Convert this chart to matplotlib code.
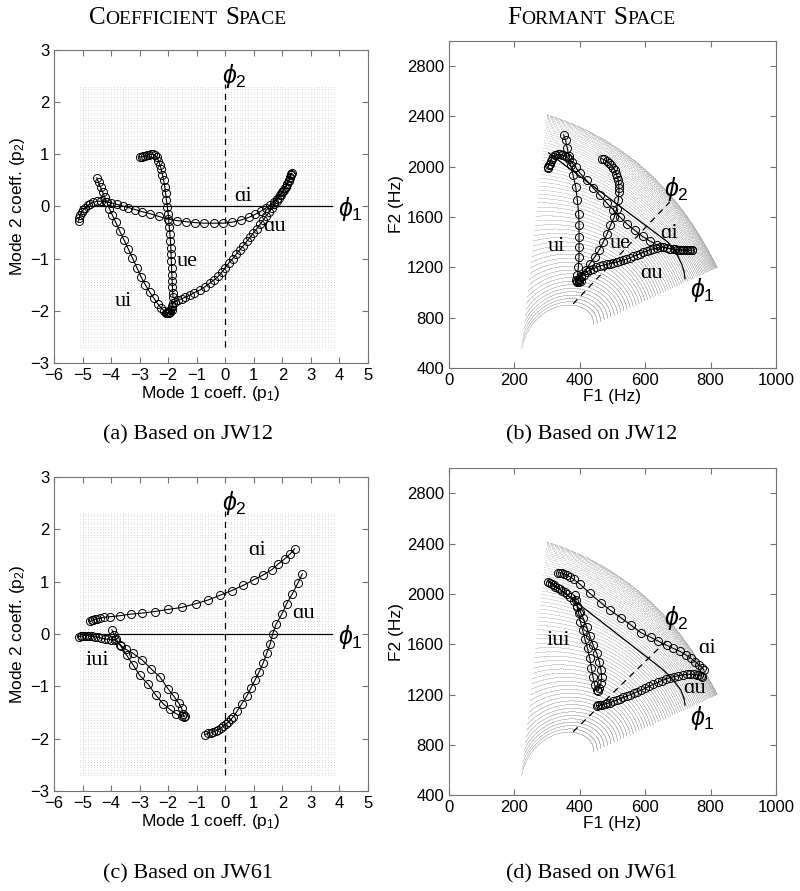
import numpy as np
import matplotlib
matplotlib.use('Agg')
import matplotlib.pyplot as plt

plt.rcParams['font.family'] = ['Liberation Sans', 'DejaVu Sans']
plt.rcParams['mathtext.fontset'] = 'custom'
plt.rcParams['mathtext.rm'] = 'Liberation Sans'
plt.rcParams['mathtext.it'] = 'Liberation Sans:italic'
SERIF = ['Liberation Serif', 'DejaVu Serif']

# ---------------- coefficient space, JW12 ----------------
a_ai_x = [-5.14, -5.12, -5.08, -5.03, -4.97, -4.9, -4.82, -4.73, -4.62, -4.5,
          -4.35, -4.18, -4.0, -3.8, -3.6, -3.4, -3.15, -2.9, -2.62, -2.33,
          -2.02, -1.7, -1.38, -1.06, -0.73, -0.4, -0.07, 0.25, 0.55, 0.82,
          1.05, 1.25, 1.42, 1.57, 1.7, 1.82, 1.92, 2.01, 2.09, 2.16,
          2.22, 2.27, 2.3]
a_ai_y = [-0.28, -0.22, -0.16, -0.11, -0.06, -0.02, 0.02, 0.05, 0.08, 0.1,
          0.1, 0.09, 0.07, 0.04, 0.01, -0.02, -0.06, -0.1, -0.14, -0.19,
          -0.24, -0.27, -0.29, -0.31, -0.32, -0.32, -0.32, -0.3, -0.26, -0.21,
          -0.15, -0.09, -0.03, 0.03, 0.09, 0.15, 0.22, 0.29, 0.36, 0.43,
          0.5, 0.57, 0.63]
a_au_x = [-2.05, -1.98, -1.92, -1.87, -1.83, -1.75, -1.65, -1.53, -1.4, -1.24,
          -1.08, -0.89, -0.72, -0.54, -0.4, -0.25, -0.12, 0.0, 0.13, 0.26,
          0.39, 0.51, 0.63, 0.75, 0.87, 0.98, 1.1, 1.22, 1.33, 1.43,
          1.53, 1.63, 1.72, 1.8, 1.87, 1.94, 2.0, 2.06, 2.12, 2.17,
          2.22, 2.26, 2.3, 2.33]
a_au_y = [-2.04, -2.03, -1.99, -1.93, -1.85, -1.83, -1.8, -1.77, -1.74, -1.7,
          -1.65, -1.6, -1.54, -1.47, -1.41, -1.34, -1.26, -1.17, -1.08, -1.0,
          -0.91, -0.83, -0.75, -0.67, -0.59, -0.51, -0.43, -0.34, -0.26, -0.18,
          -0.11, -0.03, 0.04, 0.11, 0.17, 0.22, 0.27, 0.32, 0.38, 0.43,
          0.49, 0.54, 0.6, 0.64]
a_ue_x = [-2.97, -2.92, -2.87, -2.82, -2.75, -2.68, -2.6, -2.53, -2.46, -2.4,
          -2.34, -2.29, -2.24, -2.2, -2.16, -2.12, -2.09, -2.06, -2.03, -2.0,
          -1.98, -1.96, -1.94, -1.92, -1.91, -1.9, -1.89, -1.88, -1.87, -1.86,
          -1.85, -1.84, -1.83]
a_ue_y = [0.95, 0.95, 0.96, 0.97, 0.98, 0.99, 1.0, 1.0, 0.98, 0.94,
          0.88, 0.8, 0.71, 0.61, 0.5, 0.38, 0.25, 0.12, -0.01, -0.14,
          -0.27, -0.4, -0.53, -0.66, -0.79, -0.92, -1.05, -1.18, -1.31, -1.43,
          -1.55, -1.65, -1.74]
a_ui_x = [-4.5, -4.44, -4.37, -4.3, -4.23, -4.15, -4.06, -3.96, -3.84, -3.7,
          -3.55, -3.4, -3.25, -3.1, -2.95, -2.8, -2.65, -2.5, -2.36, -2.24,
          -2.14, -2.07, -2.02, -1.97, -1.92, -1.88, -1.86]
a_ui_y = [0.55, 0.46, 0.37, 0.28, 0.19, 0.08, -0.04, -0.16, -0.3, -0.47,
          -0.64, -0.81, -0.99, -1.17, -1.35, -1.5, -1.64, -1.76, -1.87, -1.95,
          -2.0, -2.04, -2.05, -2.05, -2.03, -1.98, -1.9]

# ---------------- coefficient space, JW61 ----------------
c_ai_x = [-4.73, -4.68, -4.63, -4.57, -4.5, -4.4, -4.25, -4.05, -3.7, -3.32,
          -2.9, -2.47, -2.0, -1.51, -1.03, -0.6, -0.19, 0.22, 0.63, 1.01,
          1.33, 1.63, 1.86, 2.09, 2.27, 2.43]
c_ai_y = [0.24, 0.26, 0.27, 0.28, 0.29, 0.3, 0.32, 0.33, 0.35, 0.38,
          0.4, 0.43, 0.47, 0.51, 0.58, 0.65, 0.74, 0.83, 0.93, 1.04,
          1.13, 1.23, 1.34, 1.44, 1.53, 1.63]
c_au_x = [-0.71, -0.6, -0.5, -0.42, -0.33, -0.25, -0.16, -0.07, 0.02, 0.11,
          0.2, 0.28, 0.42, 0.57, 0.75, 0.89, 1.04, 1.19, 1.33, 1.45,
          1.57, 1.66, 1.78, 1.98, 2.15, 2.35, 2.54, 2.7]
c_au_y = [-1.92, -1.9, -1.89, -1.87, -1.85, -1.83, -1.8, -1.76, -1.72, -1.68,
          -1.63, -1.58, -1.47, -1.34, -1.19, -1.04, -0.88, -0.72, -0.55, -0.37,
          -0.19, 0.0, 0.19, 0.38, 0.58, 0.77, 0.97, 1.15]
c_iui_x = [-5.14, -5.07, -5.01, -4.95, -4.89, -4.83, -4.77, -4.68, -4.58, -4.46,
           -4.34, -4.22, -4.11, -3.99, -3.87, -3.7, -3.49, -3.23, -2.9, -2.59,
           -2.29, -2.0, -1.8, -1.63, -1.53, -1.47, -1.45,
           -1.42, -1.53, -1.73, -1.94, -2.18, -2.43, -2.7, -3.0, -3.23, -3.46,
           -3.67, -3.82, -3.9, -3.97]
c_iui_y = [-0.05, -0.04, -0.04, -0.03, -0.03, -0.03, -0.04, -0.04, -0.05, -0.06,
           -0.08, -0.09, -0.1, -0.11, -0.12, -0.2, -0.29, -0.37, -0.5, -0.67,
           -0.82, -1.05, -1.19, -1.32, -1.42, -1.52, -1.58,
           -1.57, -1.57, -1.52, -1.44, -1.33, -1.17, -0.96, -0.79, -0.59, -0.4,
           -0.22, -0.1, -0.01, 0.08]

# ---------------- formant space, JW12 ----------------
b_ui_f1 = [351, 357, 362, 367, 372, 380, 388, 393, 397, 398,
           398, 398, 398, 396, 393, 390, 392, 398, 405]
b_ui_f2 = [2254, 2209, 2151, 2082, 2011, 1931, 1838, 1732, 1626, 1534,
           1441, 1362, 1282, 1203, 1136, 1097, 1085, 1082, 1090]
b_ue_f1 = [467, 474, 482, 490, 497, 503, 508, 512, 515, 518,
           519, 520, 520, 518, 513, 506, 494, 484, 472, 460,
           446, 431, 418, 405, 398]
b_ue_f2 = [2064, 2058, 2045, 2030, 2011, 1992, 1971, 1945, 1918, 1892,
           1865, 1832, 1799, 1732, 1666, 1600, 1534, 1467, 1401, 1340,
           1282, 1229, 1176, 1128, 1100]
b_ai_f1 = [303, 304, 305, 308, 311, 314, 319, 324, 329, 334, 340, 347, 354,
           360, 368, 375, 388, 400, 421, 441, 462, 482, 503, 523, 546,
           569, 592, 615, 635, 656, 676, 690, 703, 715, 727, 737, 742]
b_ai_f2 = [1990, 2000, 2012, 2025, 2045, 2064, 2078, 2090, 2095, 2098, 2098, 2095, 2088,
           2077, 2060, 2037, 1995, 1952, 1891, 1833, 1772, 1714, 1658, 1600, 1542,
           1494, 1446, 1409, 1380, 1361, 1348, 1343, 1340, 1338, 1336, 1335, 1338]
b_au_f1 = [392, 398, 405, 412, 421, 431, 441, 451, 462, 472,
           482, 492, 503, 513, 523, 533, 543, 554, 564, 574,
           584, 594, 605, 615, 625, 636, 646, 656, 666, 676,
           687, 697, 707, 717, 727, 735, 743]
b_au_f2 = [1090, 1105, 1122, 1140, 1163, 1178, 1189, 1200, 1211, 1218,
           1224, 1230, 1237, 1243, 1250, 1258, 1266, 1276, 1287, 1298,
           1309, 1320, 1330, 1340, 1348, 1354, 1359, 1360, 1356, 1350,
           1345, 1340, 1337, 1335, 1335, 1335, 1335]
b_phi1_f1 = [305, 670, 688, 700, 712, 719, 722]
b_phi1_f2 = [2110, 1400, 1340, 1290, 1225, 1165, 1110]
b_phi2_f1 = [380, 675]
b_phi2_f2 = [910, 1720]

# ---------------- formant space, JW61 ----------------
d_ai_f1 = [334, 340, 346, 352, 360, 370, 382, 400, 431, 465,
           494, 526, 558, 587, 617, 640, 666, 686, 707, 725,
           740, 753, 765, 775, 780]
d_ai_f2 = [2169, 2168, 2166, 2160, 2151, 2137, 2116, 2079, 2005, 1930,
           1869, 1811, 1750, 1692, 1655, 1625, 1591, 1567, 1543, 1514,
           1488, 1461, 1435, 1413, 1395]
d_iui_f1 = [303, 308, 314, 320, 326, 333, 339, 346, 354, 362,
            370, 382, 393, 402, 411, 421, 431, 441, 452, 460,
            465, 467, 465, 460, 456,
            452, 446, 441, 436, 431, 424, 416, 409, 402, 397, 392, 388, 385]
d_iui_f2 = [2098, 2090, 2079, 2068, 2058, 2048, 2039, 2027, 2013, 1996,
            1978, 1944, 1907, 1859, 1806, 1740, 1665, 1594, 1527, 1461,
            1395, 1336, 1289, 1249, 1230,
            1236, 1275, 1336, 1408, 1488, 1567, 1639, 1713, 1779, 1846, 1899, 1952, 1989]
d_au_f1 = [452, 457, 462, 468, 477, 485, 492, 503, 513, 523,
           533, 544, 554, 565, 576, 588, 600, 612, 625, 638,
           651, 664, 676, 689, 702, 715, 727, 738, 748, 758,
           765, 770, 773]
d_au_f2 = [1111, 1113, 1116, 1119, 1124, 1129, 1135, 1145, 1156, 1166,
           1177, 1188, 1198, 1210, 1222, 1235, 1249, 1265, 1281, 1296,
           1310, 1323, 1334, 1343, 1350, 1356, 1360, 1361, 1360, 1357,
           1352, 1347, 1342]
d_phi1_f1 = [303, 656, 686, 709, 719, 722]
d_phi1_f2 = [2110, 1395, 1315, 1236, 1169, 1116]
d_phi2_f1 = [380, 674]
d_phi2_f2 = [904, 1650]

# sampling grid of the coefficient space
grid_p1 = np.arange(-5.1, 3.81, 0.1)
grid_p2 = np.arange(-2.7, 2.31, 0.05)
P1, P2 = np.meshgrid(grid_p1, grid_p2)

# rough image of that grid in formant space (rows become arcs)
fan_p1 = [-5.1, 0.0, 3.8]
fan_angle = [83.7, 45.0, 24.9]
fan_r_inner = [10, 75, 80]
fan_r_outer = [245, 220, 216]
fan_origin = (218, 480)
fan_scale = (0.326, 0.1258)

Q1, Q2 = np.meshgrid(np.arange(-5.1, 3.81, 0.035), np.arange(-2.7, 2.31, 0.08))
ang = np.radians(np.polyval(np.polyfit(fan_p1, fan_angle, 2), Q1))
rin = np.polyval(np.polyfit(fan_p1, fan_r_inner, 2), Q1)
rout = np.polyval(np.polyfit(fan_p1, fan_r_outer, 2), Q1)
u = (Q2 - Q2.min()) / (Q2.max() - Q2.min())
rad = rin + (rout - rin) * (1 - (1 - u) ** 1.8)
fan_f1 = fan_origin[0] + rad * np.cos(ang) / fan_scale[0]
fan_f2 = fan_origin[1] + rad * np.sin(ang) / fan_scale[1]

fig = plt.figure(figsize=(8, 8.91), dpi=100)
ax_a = fig.add_axes([0.0675, 0.5926, 0.3925, 0.3513])
ax_b = fig.add_axes([0.561, 0.587, 0.409, 0.367])
ax_c = fig.add_axes([0.0675, 0.1122, 0.3925, 0.3524])
ax_d = fig.add_axes([0.561, 0.1077, 0.409, 0.3667])

traj = dict(color='k', lw=0.8, marker='o', ms=5.8, mfc='none', mec='k', mew=0.7)
lab = dict(family=SERIF, fontsize=16, ha='center', va='center')


def style(ax):
    ax.tick_params(direction='in', top=True, right=True, length=4,
                   labelsize=12, color='0.45')
    for s in ax.spines.values():
        s.set_color('0.45')
        s.set_linewidth(0.8)


def coeff_panel(ax, curves, labels):
    ax.scatter(P1.ravel(), P2.ravel(), s=0.25, c='0.78', linewidths=0, zorder=0)
    ax.plot([-5.1, 3.75], [0, 0], color='k', lw=0.9, zorder=1)
    ax.plot([0, 0], [-2.7, 2.35], color='k', lw=0.9, ls=(0, (5, 4)), zorder=1)
    for x, y in curves:
        ax.plot(x, y, zorder=2, **traj)
    for t, x, y in labels:
        ax.text(x, y, t, **lab)
    ax.text(-0.12, 2.5, r'$\phi_2$', fontsize=18, ha='left', va='center')
    ax.text(3.95, -0.05, r'$\phi_1$', fontsize=18, ha='left', va='center')
    ax.set_xlim(-6, 5)
    ax.set_ylim(-3, 3)
    ax.set_xticks(range(-6, 6))
    ax.set_yticks(range(-3, 4))
    ax.set_xticklabels([str(v).replace('-', '\u2212') for v in range(-6, 6)])
    ax.set_yticklabels([str(v).replace('-', '\u2212') for v in range(-3, 4)])
    ax.set_xlabel('Mode 1 coeff. (p$_1$)', fontsize=12.5, labelpad=1)
    ax.set_ylabel('Mode 2 coeff. (p$_2$)', fontsize=12.5, labelpad=2)
    style(ax)


def formant_panel(ax, curves, phi1, phi2, labels, phi_pos):
    ax.scatter(fan_f1.ravel(), fan_f2.ravel(), s=0.15, c='0.68', linewidths=0, zorder=0)
    ax.plot(phi1[0], phi1[1], color='k', lw=0.9, zorder=1)
    ax.plot(phi2[0], phi2[1], color='k', lw=0.9, ls=(0, (5, 4)), zorder=1)
    for x, y in curves:
        ax.plot(x, y, zorder=2, **traj)
    for t, x, y in labels:
        ax.text(x, y, t, **lab)
    ax.text(phi_pos[0][0], phi_pos[0][1], r'$\phi_2$', fontsize=18, ha='center', va='center')
    ax.text(phi_pos[1][0], phi_pos[1][1], r'$\phi_1$', fontsize=18, ha='center', va='center')
    ax.set_xlim(0, 1000)
    ax.set_ylim(400, 3000)
    ax.set_xticks(range(0, 1001, 200))
    ax.set_yticks(range(400, 2801, 400))
    ax.set_xlabel('F1 (Hz)', fontsize=12.5, labelpad=1)
    ax.set_ylabel('F2 (Hz)', fontsize=12.5, labelpad=2)
    style(ax)


coeff_panel(ax_a,
            [(a_ai_x, a_ai_y), (a_au_x, a_au_y), (a_ue_x, a_ue_y), (a_ui_x, a_ui_y)],
            [('\u0251i', 0.63, 0.2), ('\u0251u', 1.74, -0.38),
             ('ue', -1.33, -1.05), ('ui', -3.57, -1.82)])
coeff_panel(ax_c,
            [(c_ai_x, c_ai_y), (c_au_x, c_au_y), (c_iui_x, c_iui_y)],
            [('\u0251i', 1.13, 1.6), ('\u0251u', 2.75, 0.39), ('iui', -4.49, -0.5)])
formant_panel(ax_b,
              [(b_ai_f1, b_ai_f2), (b_au_f1, b_au_f2), (b_ue_f1, b_ue_f2), (b_ui_f1, b_ui_f2)],
              (b_phi1_f1, b_phi1_f2), (b_phi2_f1, b_phi2_f2),
              [('\u0251i', 673, 1467), ('ue', 525, 1388), ('ui', 330, 1362),
               ('\u0251u', 619, 1155)],
              [(695, 1825), (775, 1017)])
formant_panel(ax_d,
              [(d_ai_f1, d_ai_f2), (d_au_f1, d_au_f2), (d_iui_f1, d_iui_f2)],
              (d_phi1_f1, d_phi1_f2), (d_phi2_f1, d_phi2_f2),
              [('\u0251i', 788, 1567), ('\u0251u', 752, 1249), ('iui', 335, 1633)],
              [(695, 1806), (775, 1010)])


def small_caps(fig, xc, y, phrase, big=18, small=14):
    rend = fig.canvas.get_renderer()
    W = fig.bbox.width
    items = []
    for i, w in enumerate(phrase.split()):
        if i:
            items.append(None)
        items.append(fig.text(0, y, w[0], fontsize=big, family=SERIF, va='baseline'))
        items.append(fig.text(0, y, w[1:], fontsize=small, family=SERIF, va='baseline'))
    gap = 0.3 * big * fig.dpi / 72
    widths = [gap if t is None else t.get_window_extent(rend).width for t in items]
    x = xc * W - sum(widths) / 2
    for t, w in zip(items, widths):
        if t is not None:
            t.set_x(x / W)
        x += w


small_caps(fig, 0.235, 0.973, 'COEFFICIENT SPACE')
small_caps(fig, 0.739, 0.973, 'FORMANT SPACE')

cap = dict(family=SERIF, fontsize=16, ha='center', va='center')
fig.text(0.235, 0.512, '(a) Based on JW12', **cap)
fig.text(0.739, 0.512, '(b) Based on JW12', **cap)
fig.text(0.235, 0.019, '(c) Based on JW61', **cap)
fig.text(0.739, 0.019, '(d) Based on JW61', **cap)

fig.savefig('out.png', dpi=100, facecolor='white')
